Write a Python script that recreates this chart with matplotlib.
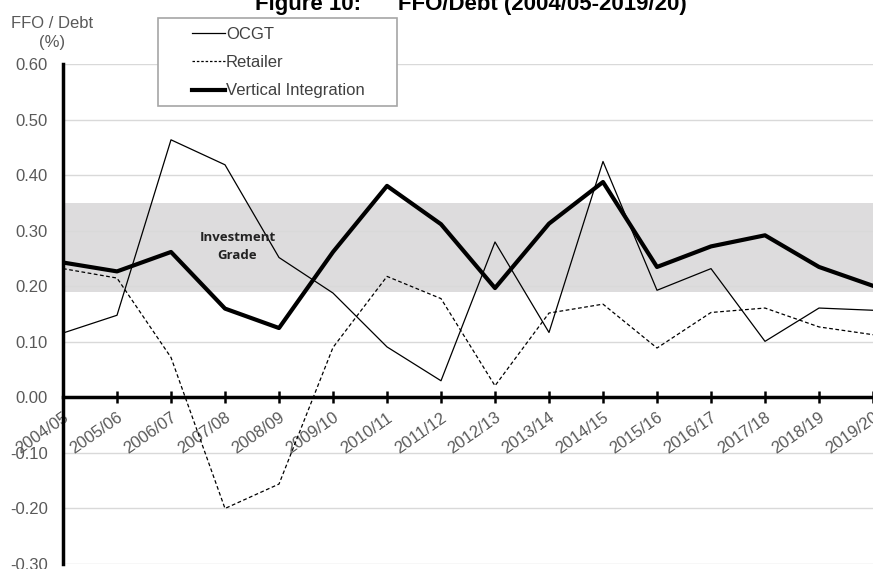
import matplotlib
matplotlib.use('Agg')
import matplotlib.pyplot as plt
from matplotlib.lines import Line2D
from matplotlib.patches import Rectangle

# FFO / Debt ratios by financial year
years = ['2004/05', '2005/06', '2006/07', '2007/08', '2008/09', '2009/10',
         '2010/11', '2011/12', '2012/13', '2013/14', '2014/15', '2015/16',
         '2016/17', '2017/18', '2018/19', '2019/20']
ocgt = [0.116, 0.148, 0.464, 0.419, 0.252, 0.188, 0.091, 0.030,
        0.280, 0.117, 0.425, 0.193, 0.232, 0.101, 0.161, 0.157]
retailer = [0.232, 0.215, 0.072, -0.200, -0.156, 0.090, 0.218, 0.178,
            0.021, 0.152, 0.168, 0.089, 0.153, 0.161, 0.127, 0.113]
vertical = [0.243, 0.227, 0.262, 0.160, 0.125, 0.262, 0.381, 0.312,
            0.197, 0.313, 0.388, 0.235, 0.272, 0.292, 0.235, 0.201]
grade_low, grade_high = 0.19, 0.35
yticks = [-0.30, -0.20, -0.10, 0.00, 0.10, 0.20, 0.30, 0.40, 0.50, 0.60]

FONT = ['Liberation Sans Narrow', 'Liberation Sans', 'DejaVu Sans']
GREY = '#595959'

plt.rcParams['font.family'] = FONT

fig = plt.figure(figsize=(8.73, 5.69), dpi=100)
W, H = 873, 569
ax = fig.add_axes([63 / W, 1 - 564 / H, (873 - 63) / W, (564 - 64.3) / H])

x = list(range(len(years)))

ax.axhspan(grade_low, grade_high, color='#dddcdd', zorder=0.5, lw=0)
for t in yticks:
    ax.axhline(t, color='#d9d9d9', lw=1, zorder=0.8)

ax.plot(x, ocgt, color='black', lw=0.9, zorder=3, label='OCGT')
ax.plot(x, retailer, color='black', lw=0.9, dashes=(3, 2), zorder=3, label='Retailer')
ax.plot(x, vertical, color='black', lw=3, zorder=4, label='Vertical Integration')

ax.text(3.23, 0.272, 'Investment\nGrade', ha='center', va='center',
        fontsize=9.5, fontweight='bold', family=['Open Sans', 'DejaVu Sans'],
        color='#222222', linespacing=1.45, zorder=5)

ax.set_xlim(0, 15)
ax.set_ylim(-0.3, 0.6)
ax.set_yticks(yticks)
ax.set_yticklabels([f'{t:.2f}' for t in yticks])
ax.set_xticks(x)
ax.set_xticklabels(years)

for side in ['top', 'right']:
    ax.spines[side].set_visible(False)
ax.spines['left'].set_linewidth(2.5)
ax.spines['bottom'].set_position(('data', 0))
ax.spines['bottom'].set_linewidth(2.5)
ax.spines['bottom'].set_zorder(6)

ax.tick_params(axis='y', length=0, pad=11, labelsize=12, labelcolor=GREY)
ax.tick_params(axis='x', direction='inout', length=8, width=1.8, pad=5,
               labelsize=12, labelcolor=GREY)
for lab in ax.get_xticklabels():
    lab.set_rotation(35)
    lab.set_rotation_mode('anchor')
    lab.set_ha('right')
    lab.set_va('top')
ax.patch.set_visible(False)

# axis caption above the y ticks
fig.text(52 / W, 1 - 33 / H, 'FFO / Debt\n(%)', ha='center', va='center',
         fontsize=12, color=GREY, linespacing=1.3)

# title, partly running off the top of the canvas
fig.text(471 / W, 1 - 10 / H, 'Figure 10:      FFO/Debt (2004/05-2019/20)',
         ha='center', va='baseline', fontsize=16, fontweight='bold', color='black')

# legend frame and entries
fig.patches.append(Rectangle((157.7 / W, 1 - 106 / H), (397.3 - 157.7) / W,
                             (106 - 18.3) / H, transform=fig.transFigure,
                             facecolor='white', edgecolor='#a6a6a6', lw=1.2, zorder=10))
handles = [Line2D([], [], color='black', lw=0.9),
           Line2D([], [], color='black', lw=0.9, dashes=(2, 1.5)),
           Line2D([], [], color='black', lw=3)]
leg = fig.legend(handles, ['OCGT', 'Retailer', 'Vertical Integration'],
                 loc='upper left', bbox_to_anchor=(180 / W, 1 - 15 / H),
                 frameon=False, fontsize=12, handlelength=2.0, handletextpad=0.05,
                 labelspacing=0.8, borderpad=0.2, labelcolor='#404040')
leg.set_zorder(11)

fig.savefig('out.png', dpi=100)
